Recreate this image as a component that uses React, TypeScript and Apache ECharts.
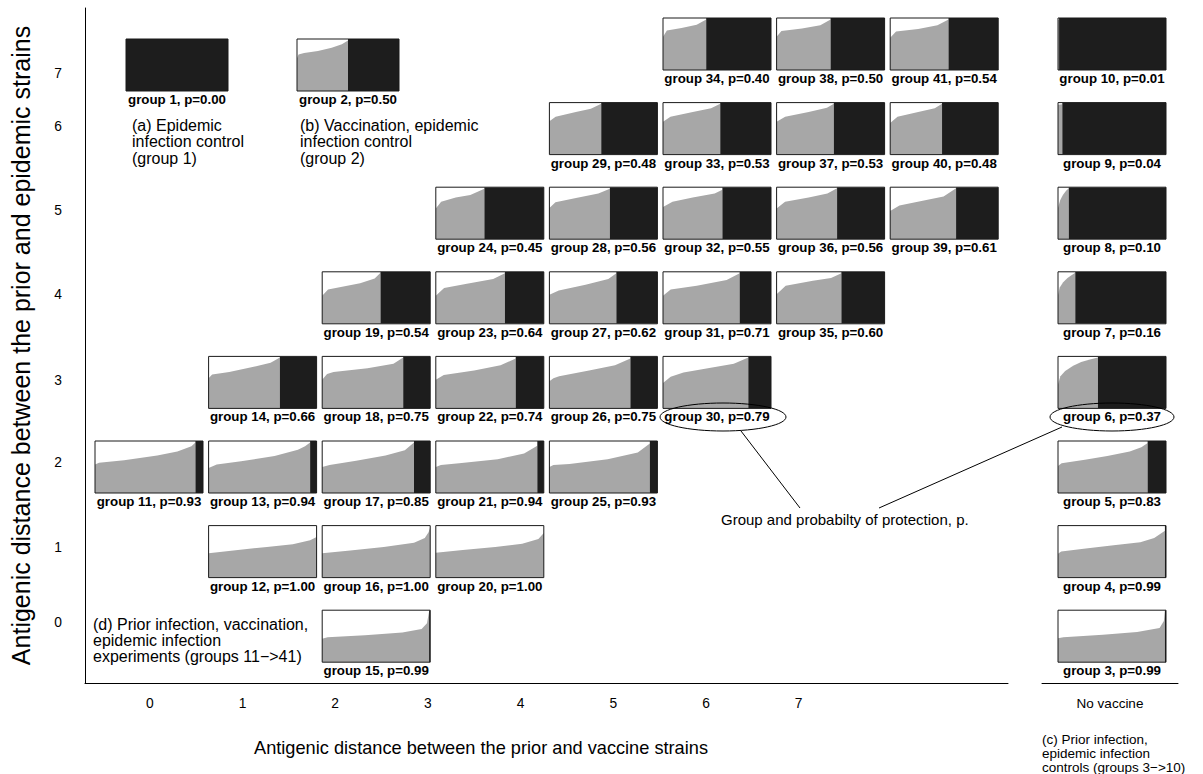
import React, { useEffect, useRef } from "react";
import * as echarts from "echarts";

// ---------- data ----------
const groupIds = [
  1, 2, 3, 4, 5, 6, 7, 8, 9, 10, 11, 12, 13, 14, 15, 16, 17, 18, 19, 20, 21,
  22, 23, 24, 25, 26, 27, 28, 29, 30, 31, 32, 33, 34, 35, 36, 37, 38, 39, 40, 41,
];
const protectionP = [
  0.0, 0.5, 0.99, 0.99, 0.83, 0.37, 0.16, 0.1, 0.04, 0.01, 0.93, 1.0, 0.94,
  0.66, 0.99, 1.0, 0.85, 0.75, 0.54, 1.0, 0.94, 0.74, 0.64, 0.45, 0.93, 0.75,
  0.62, 0.56, 0.48, 0.79, 0.71, 0.55, 0.53, 0.4, 0.6, 0.56, 0.53, 0.5, 0.61,
  0.48, 0.54,
];
// antigenic distance prior -> vaccine (column); -1 = control (no prior), 8 = no vaccine
const vaccineDistance = [
  -1, -1, 8, 8, 8, 8, 8, 8, 8, 8, 0, 1, 1, 1, 2, 2, 2, 2, 2, 3, 3, 3, 3, 3, 4,
  4, 4, 4, 4, 5, 5, 5, 5, 5, 6, 6, 6, 6, 7, 7, 7,
];
// antigenic distance prior -> epidemic (row)
const epidemicDistance = [
  -1, -1, 0, 1, 2, 3, 4, 5, 6, 7, 2, 1, 2, 3, 0, 1, 2, 3, 4, 1, 2, 3, 4, 5, 2,
  3, 4, 5, 6, 3, 4, 5, 6, 7, 4, 5, 6, 7, 5, 6, 7,
];
// sorted titre curves of protected individuals: [position within protected part, height]
const titreCurves: number[][][] = [
  [],
  [[0, 0.63], [0.03, 0.7], [0.14, 0.73], [0.41, 0.77], [0.68, 0.83], [0.88, 0.9], [1, 0.97]],
  [[0, 0.46], [0.05, 0.48], [0.42, 0.53], [0.74, 0.58], [0.95, 0.66], [0.99, 0.79], [1, 0.99]],
  [[0, 0.46], [0.03, 0.5], [0.26, 0.56], [0.52, 0.62], [0.77, 0.68], [0.9, 0.76], [1, 0.9]],
  [[0, 0.52], [0.04, 0.57], [0.3, 0.64], [0.55, 0.71], [0.8, 0.8], [0.93, 0.88], [1, 0.96]],
  [[0, 0.46], [0.06, 0.62], [0.18, 0.72], [0.38, 0.82], [0.58, 0.89], [0.8, 0.94], [1, 0.98]],
  [[0, 0.55], [0.1, 0.7], [0.3, 0.8], [0.55, 0.88], [0.8, 0.94], [1, 0.98]],
  [[0, 0.6], [0.2, 0.75], [0.45, 0.85], [0.75, 0.93], [1, 0.98]],
  [[0, 0.96], [1, 0.97]],
  [[0, 0.96], [1, 0.97]],
  [[0, 0.55], [0.04, 0.58], [0.29, 0.63], [0.62, 0.72], [0.82, 0.8], [0.96, 0.9], [1, 0.97]],
  [[0, 0.47], [0.23, 0.52], [0.54, 0.59], [0.78, 0.64], [0.94, 0.72], [1, 0.78]],
  [[0, 0.48], [0.08, 0.55], [0.32, 0.61], [0.65, 0.71], [0.88, 0.83], [0.95, 0.9], [1, 0.97]],
  [[0, 0.58], [0.05, 0.65], [0.29, 0.7], [0.6, 0.79], [0.87, 0.88], [1, 0.98]],
  [[0, 0.45], [0.05, 0.48], [0.4, 0.52], [0.75, 0.57], [0.93, 0.64], [0.98, 0.75], [1, 0.98]],
  [[0, 0.47], [0.26, 0.52], [0.57, 0.59], [0.85, 0.67], [0.95, 0.76], [0.985, 0.87], [1, 0.97]],
  [[0, 0.5], [0.08, 0.54], [0.37, 0.62], [0.69, 0.72], [0.9, 0.82], [1, 0.97]],
  [[0, 0.55], [0.06, 0.66], [0.14, 0.7], [0.56, 0.77], [0.88, 0.86], [1, 0.98]],
  [[0, 0.54], [0.1, 0.66], [0.32, 0.71], [0.65, 0.78], [0.9, 0.87], [1, 0.98]],
  [[0, 0.48], [0.25, 0.53], [0.55, 0.59], [0.8, 0.65], [0.95, 0.74], [1, 0.86]],
  [[0, 0.5], [0.05, 0.54], [0.23, 0.57], [0.61, 0.65], [0.87, 0.76], [1, 0.91]],
  [[0, 0.55], [0.1, 0.64], [0.48, 0.73], [0.81, 0.83], [1, 0.96]],
  [[0, 0.54], [0.12, 0.69], [0.45, 0.77], [0.83, 0.86], [1, 0.97]],
  [[0, 0.59], [0.11, 0.72], [0.41, 0.8], [0.71, 0.85], [1, 0.97]],
  [[0, 0.5], [0.04, 0.54], [0.2, 0.56], [0.58, 0.65], [0.88, 0.78], [1, 0.95]],
  [[0, 0.52], [0.05, 0.58], [0.12, 0.62], [0.49, 0.73], [0.81, 0.83], [1, 0.96]],
  [[0, 0.56], [0.14, 0.64], [0.54, 0.75], [0.88, 0.86], [1, 0.97]],
  [[0, 0.6], [0.1, 0.71], [0.44, 0.79], [0.81, 0.88], [1, 0.97]],
  [[0, 0.64], [0.12, 0.73], [0.51, 0.82], [0.8, 0.88], [1, 0.98]],
  [[0, 0.49], [0.09, 0.61], [0.24, 0.69], [0.56, 0.78], [0.83, 0.86], [1, 0.98]],
  [[0, 0.54], [0.1, 0.66], [0.44, 0.73], [0.83, 0.84], [1, 0.97]],
  [[0, 0.62], [0.16, 0.72], [0.5, 0.8], [0.87, 0.88], [1, 0.95]],
  [[0, 0.63], [0.13, 0.73], [0.52, 0.82], [0.84, 0.89], [1, 0.98]],
  [[0, 0.64], [0.09, 0.76], [0.43, 0.81], [0.78, 0.87], [1, 0.97]],
  [[0, 0.57], [0.14, 0.73], [0.56, 0.83], [0.84, 0.88], [1, 0.97]],
  [[0, 0.59], [0.14, 0.72], [0.53, 0.8], [0.84, 0.88], [1, 0.98]],
  [[0, 0.63], [0.15, 0.73], [0.56, 0.82], [0.88, 0.9], [1, 0.98]],
  [[0, 0.64], [0.09, 0.75], [0.47, 0.8], [0.81, 0.86], [1, 0.97]],
  [[0, 0.54], [0.14, 0.65], [0.53, 0.75], [0.81, 0.82], [1, 0.98]],
  [[0, 0.61], [0.14, 0.73], [0.54, 0.82], [0.86, 0.89], [1, 0.98]],
  [[0, 0.62], [0.1, 0.74], [0.48, 0.79], [0.81, 0.86], [1, 0.97]],
];
const xTickLabels = [0, 1, 2, 3, 4, 5, 6, 7];
const noVaccineLabel = ["No vaccine"];
const yTickLabels = ["0", "1", "2", "3", "4", "5", "6", "7"];

// ---------- layout ----------
const FONT = "'Liberation Sans', Arial, Helvetica, sans-serif";
const GREY = "#a7a7a7";
const BLACK = "#1d1d1d";
const BOX_W = 108;
const BOX_H = 52;
const COL_X0 = 95;
const COL_STEP = 113.6;
const NV_X = 1058;
const ROW_Y7 = 18;
const ROW_STEP = 84.6;
const CONTROL_BOXES = [
  { left: 126, top: 39, width: 102 },
  { left: 297, top: 39, width: 102 },
];
const Y_TICK_POS = [622, 547, 462, 380, 294, 210, 126, 73];

function boxOf(i: number) {
  const col = vaccineDistance[i];
  const row = epidemicDistance[i];
  if (col < 0) {
    const c = CONTROL_BOXES[i];
    return { left: c.left, top: c.top, width: c.width, height: BOX_H };
  }
  const left = col === 8 ? NV_X : COL_X0 + COL_STEP * col;
  const top = ROW_Y7 + ROW_STEP * (7 - row);
  return { left, top, width: BOX_W, height: BOX_H };
}

function buildOption() {
  const grid: any[] = [];
  const xAxis: any[] = [];
  const yAxis: any[] = [];
  const series: any[] = [];

  groupIds.forEach((id, i) => {
    const p = protectionP[i];
    const b = boxOf(i);
    grid.push({ left: b.left, top: b.top, width: b.width, height: b.height, containLabel: false });
    xAxis.push({
      gridIndex: i,
      type: "value",
      min: 0,
      max: 1,
      axisLine: { show: false },
      axisTick: { show: false },
      axisLabel: { show: false },
      splitLine: { show: false },
      name: `group ${id}, p=${p.toFixed(2)}`,
      nameLocation: "middle",
      nameGap: 2,
      nameTextStyle: {
        fontFamily: FONT,
        fontWeight: "bold",
        fontSize: 13.3,
        color: "#000",
        verticalAlign: "top",
      },
    });
    yAxis.push({ gridIndex: i, type: "value", min: 0, max: 1, show: false });
    const curve = titreCurves[i];
    if (curve.length > 0 && p > 0) {
      series.push({
        type: "line",
        xAxisIndex: i,
        yAxisIndex: i,
        data: curve.map(([f, h]) => [f * p, h]),
        symbol: "none",
        lineStyle: { width: 0 },
        areaStyle: { color: GREY, opacity: 1 },
        silent: true,
        z: 2,
      });
    }
    if (p < 1) {
      series.push({
        type: "line",
        xAxisIndex: i,
        yAxisIndex: i,
        data: [
          [p, 1],
          [1, 1],
        ],
        symbol: "none",
        lineStyle: { width: 0 },
        areaStyle: { color: BLACK, opacity: 1 },
        silent: true,
        z: 2,
      });
    }
    series.push({
      type: "line",
      xAxisIndex: i,
      yAxisIndex: i,
      data: [
        [0, 0],
        [1, 0],
        [1, 1],
        [0, 1],
        [0, 0],
      ],
      symbol: "none",
      clip: false,
      lineStyle: { color: "#1a1a1a", width: 1 },
      silent: true,
      z: 4,
    });
  });

  // main frame axes
  const mainIdx = groupIds.length;
  grid.push({ left: 82, top: 8, width: 926, height: 675 });
  xAxis.push({
    gridIndex: mainIdx,
    type: "value",
    min: -0.699,
    max: 9.258,
    axisLine: { show: true, onZero: false, lineStyle: { color: "#000", width: 1 } },
    axisTick: { show: false },
    splitLine: { show: false },
    axisLabel: {
      customValues: xTickLabels,
      margin: 13,
      fontFamily: FONT,
      fontSize: 13.8,
      color: "#000",
    },
  });
  yAxis.push({
    gridIndex: mainIdx,
    type: "value",
    min: 0,
    max: 1,
    axisLine: { show: true, onZero: false, lineStyle: { color: "#000", width: 1 } },
    axisTick: { show: false },
    axisLabel: { show: false },
    splitLine: { show: false },
    name: "Antigenic distance between the prior and epidemic strains",
    nameLocation: "middle",
    nameGap: 52,
    nameTextStyle: { fontFamily: FONT, fontSize: 25, color: "#000" },
  });

  const nvIdx = mainIdx + 1;
  grid.push({ left: 1042, top: 8, width: 136, height: 675 });
  xAxis.push({
    gridIndex: nvIdx,
    type: "category",
    data: noVaccineLabel,
    axisLine: { show: true, onZero: false, lineStyle: { color: "#000", width: 1 } },
    axisTick: { show: false },
    splitLine: { show: false },
    axisLabel: { margin: 13, fontFamily: FONT, fontSize: 13.5, color: "#000" },
  });
  yAxis.push({ gridIndex: nvIdx, type: "value", min: 0, max: 1, show: false });

  const txt = (x: number, y: number, text: string, size: number, extra: any = {}) => ({
    type: "text",
    x,
    y,
    style: {
      text,
      fontFamily: FONT,
      fontSize: size,
      fill: "#000",
      align: extra.align || "left",
      textAlign: extra.align || "left",
      verticalAlign: extra.va || "top",
      textVerticalAlign: extra.va || "top",
      lineHeight: extra.lh || size,
    },
    z: 10,
  });

  const graphic: any[] = [];
  yTickLabels.forEach((t, k) => {
    graphic.push(txt(58, Y_TICK_POS[k], t, 13.8, { align: "center", va: "middle" }));
  });
  graphic.push(
    txt(481, 748, "Antigenic distance between the prior and vaccine strains", 18.2, {
      align: "center",
      va: "middle",
    })
  );
  graphic.push(txt(132, 117, "(a) Epidemic\ninfection control\n(group 1)", 16, { lh: 16.5 }));
  graphic.push(
    txt(300, 117, "(b) Vaccination, epidemic\ninfection control\n(group 2)", 16, { lh: 16.5 })
  );
  graphic.push(
    txt(
      93,
      616,
      "(d) Prior infection, vaccination,\nepidemic infection\nexperiments (groups 11\u2212>41)",
      16,
      { lh: 16 }
    )
  );
  graphic.push(
    txt(
      1042,
      732,
      "(c) Prior infection,\nepidemic infection\ncontrols (groups 3\u2212>10)",
      13.5,
      { lh: 14 }
    )
  );
  graphic.push(
    txt(721, 519, "Group and probabilty of protection, p.", 15, { va: "middle" })
  );
  graphic.push({
    type: "ellipse",
    shape: { cx: 723, cy: 417, rx: 63, ry: 14 },
    style: { fill: "none", stroke: "#000", lineWidth: 1 },
    z: 10,
  });
  graphic.push({
    type: "ellipse",
    shape: { cx: 1112, cy: 417, rx: 62, ry: 14 },
    style: { fill: "none", stroke: "#000", lineWidth: 1 },
    z: 10,
  });
  graphic.push({
    type: "line",
    shape: { x1: 741, y1: 431, x2: 800, y2: 508 },
    style: { stroke: "#000", lineWidth: 1 },
    z: 10,
  });
  graphic.push({
    type: "line",
    shape: { x1: 1062, y1: 427, x2: 879, y2: 508 },
    style: { stroke: "#000", lineWidth: 1 },
    z: 10,
  });

  return {
    animation: false,
    backgroundColor: "#fff",
    textStyle: { fontFamily: FONT },
    grid,
    xAxis,
    yAxis,
    series,
    graphic,
  };
}

export default function App() {
  const ref = useRef<HTMLDivElement>(null);
  useEffect(() => {
    if (!ref.current) return;
    const chart = echarts.init(ref.current, undefined, { renderer: "svg" });
    chart.setOption(buildOption() as any);
    return () => chart.dispose();
  }, []);
  return (
    <div
      ref={ref}
      style={{ position: "absolute", left: 0, top: 0, width: 1203, height: 774 }}
    />
  );
}
